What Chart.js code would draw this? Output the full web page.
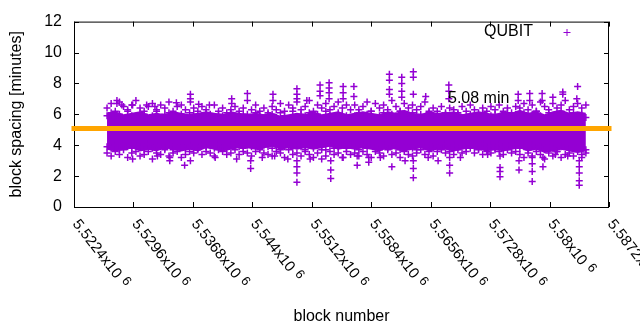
<!DOCTYPE html>
<html>
<head>
<meta charset="utf-8">
<script src="https://cdn.jsdelivr.net/npm/chart.js@4.4.1/dist/chart.umd.min.js"></script>
<style>
  body { margin: 0; background: #fff; }
  #wrap { width: 640px; height: 330px; }
</style>
</head>
<body>
<div id="wrap"><canvas id="spacing" width="640" height="330"></canvas></div>
<script>
const seriesLabel = 'QUBIT';
const meanSpacing = 5.08;

// blocks sampled every blockStep from blockStart, one value per row and block
const blockStart = 5526400;
const blockStep = 500;

// the bulk of the blocks: a solid band between these two edges (every 2nd block step)
const coreUpper = [
  6.1,6.2,6.0,6.1,6.2,6.0,6.1,6.0,6.2,6.1,6.0,6.1,6.2,6.1,6.0,6.2,6.1,
  6.0,6.1,6.0,6.1,5.9,6.0,6.1,6.0,6.2,6.0,6.1,6.2,6.0,6.1,6.2,6.1,6.0,6.2,6.1,6.3,6.1,6.0,6.2,6.1,
  6.1,6.2,6.0,6.1,6.2,6.1,6.0,6.2,6.1,6.3,6.1,6.2,6.0,6.2,6.3,6.1,6.2,6.1
];
const coreLower = [
  3.7,3.6,3.7,3.8,3.6,3.7,3.6,3.8,3.7,3.6,3.7,3.6,3.8,3.7,3.6,3.7,3.8,
  3.8,3.7,3.8,3.9,3.7,3.8,3.7,3.8,3.7,3.8,3.9,3.7,3.8,3.7,3.8,3.7,3.6,3.8,3.7,3.6,3.7,3.8,3.6,3.7,
  3.7,3.6,3.7,3.8,3.7,3.6,3.7,3.6,3.7,3.8,3.6,3.7,3.5,3.6,3.7,3.6,3.5,3.6
];

const rowTop = [
  6.4,6.7,6.2,6.8,6.5,6.3,6.6,6.9,6.4,6.2,6.5,6.7,6.3,6.6,6.4,6.8,6.2,6.5,6.6,6.3,
  6.1,6.4,6.2,6.5,6.3,6.0,6.6,6.2,6.4,6.1,6.3,6.5,6.2,6.4,6.0,6.3,6.6,6.2,6.4,6.1,
  6.5,6.3,6.7,6.2,6.6,6.4,6.8,6.3,6.5,6.9,6.2,6.6,6.4,6.7,6.3,6.5,6.8,6.4,6.6,6.3,
  6.6,6.3,6.5,6.8,6.2,6.7,6.4,6.6,6.3,6.9,6.5,6.2,6.7,6.4,6.6,6.3,6.5,6.8,6.2,6.4,
  6.2,6.5,6.1,6.4,6.3,6.0,6.5,6.2,6.6,6.3,6.1,6.4,6.2,6.5,6.3,6.6,6.2,6.4,6.1,6.5,
  6.4,6.7,6.3,6.6,6.2,6.8,6.5,6.3,6.7,6.4,6.6,6.9,6.3,6.5,6.7,6.4,6.6
];
const rowHigh = [
  5.9,6.1,5.8,6.0,5.7,6.2,5.9,5.8,6.1,6.0,5.7,5.9,6.2,5.8,6.0,6.1,5.7,5.9,6.0,5.8,
  5.8,6.0,5.7,5.9,6.1,5.8,5.7,6.0,5.9,5.8,6.1,5.7,5.9,6.0,5.8,5.7,6.1,5.9,5.8,6.0,
  6.0,5.8,6.1,5.9,5.7,6.2,5.8,6.0,5.9,6.1,5.8,6.0,5.7,6.2,5.9,5.8,6.1,6.0,5.9,5.7,
  5.9,6.1,5.8,6.0,6.2,5.7,5.9,6.1,5.8,6.0,5.9,6.2,5.8,5.7,6.1,5.9,6.0,5.8,6.1,5.9,
  5.8,5.9,6.0,5.7,5.9,6.1,5.8,5.7,6.0,5.9,5.8,6.1,5.7,5.9,6.0,5.8,5.9,6.1,5.7,6.0,
  5.9,6.1,5.8,6.0,6.2,5.9,5.7,6.1,5.8,6.0,6.2,5.9,5.8,6.1,5.9,6.0,5.8
];
const rowBase = [
  3.9,3.8,4.0,3.7,4.1,3.9,3.8,4.0,3.9,3.7,4.1,3.8,4.0,3.9,3.8,4.1,3.7,3.9,4.0,3.8,
  4.0,3.9,3.8,4.1,3.9,4.0,3.8,4.1,3.9,3.8,4.0,4.1,3.9,3.8,4.0,3.9,4.1,3.8,4.0,3.9,
  3.8,4.0,3.7,3.9,4.1,3.8,4.0,3.9,3.7,4.0,3.8,4.1,3.9,3.7,4.0,3.8,3.9,4.1,3.8,4.0,
  3.9,3.7,4.0,3.8,4.1,3.9,3.7,4.0,3.8,3.9,4.1,3.7,3.9,4.0,3.8,3.7,4.0,3.9,4.1,3.8,
  4.0,3.9,4.1,3.8,4.0,3.9,4.1,3.8,4.0,3.9,3.8,4.1,3.9,4.0,3.8,4.1,3.9,4.0,3.8,4.1,
  3.8,3.9,3.7,4.0,3.8,3.9,3.7,4.0,3.8,3.6,3.9,4.0,3.7,3.8,4.0,3.9,3.7
];
const rowBottom = [
  3.5,3.3,3.6,3.4,3.7,3.2,3.5,3.6,3.3,3.4,3.6,3.1,3.5,3.4,3.7,3.3,3.5,3.6,3.2,3.4,
  3.6,3.5,3.7,3.4,3.6,3.5,3.3,3.7,3.6,3.4,3.5,3.7,3.4,3.6,3.5,3.3,3.6,3.7,3.5,3.4,
  3.3,3.6,3.5,3.2,3.7,3.4,3.5,3.3,3.6,3.4,3.2,3.5,3.7,3.3,3.6,3.4,3.5,3.2,3.6,3.4,
  3.5,3.3,3.6,3.4,3.2,3.6,3.5,3.3,3.7,3.4,3.5,3.2,3.6,3.4,3.3,3.5,3.7,3.4,3.6,3.3,
  3.6,3.7,3.5,3.6,3.4,3.7,3.5,3.6,3.8,3.5,3.7,3.4,3.6,3.5,3.7,3.6,3.4,3.7,3.5,3.6,
  3.4,3.2,3.5,3.3,3.6,3.4,3.1,3.5,3.3,3.6,3.2,3.4,3.5,3.3,3.6,3.4,3.5
];

// isolated slow / fast blocks outside the band: [block, minutes]
const spikes = [
  [5527600,6.9],[5527600,6.7],[5528200,6.6],[5529500,6.6],[5531200,6.6],[5532200,6.5],
  [5534800,6.75],[5536500,7.3],[5536500,7.0],[5536500,6.8],[5537500,6.65],[5538800,6.6],
  [5541500,7.0],[5541500,6.7],[5543400,7.35],[5543400,6.9],[5546500,7.3],[5546500,6.9],
  [5549400,7.65],[5549400,7.3],[5549400,7.0],[5550600,6.9],[5552200,7.9],[5552200,7.5],
  [5552200,7.2],[5553300,8.05],[5553300,7.7],[5553300,7.4],[5553300,7.0],[5555000,7.8],
  [5555000,7.4],[5555000,7.0],[5556300,7.8],[5556300,7.15],[5560600,8.6],[5560600,8.2],
  [5560600,7.6],[5560600,7.3],[5562100,8.4],[5562100,8.0],[5562100,7.5],[5562100,7.1],
  [5563500,8.75],[5563500,8.4],[5563500,7.3],[5565000,7.15],[5567800,7.9],[5567800,7.5],
  [5567800,7.0],[5576200,7.3],[5576200,6.9],[5577600,7.35],[5577600,6.9],[5579100,7.35],
  [5579100,6.9],[5580400,7.1],[5581600,7.45],[5581600,7.3],[5583300,7.0],[5583400,7.8],
  [5529500,3.1],[5532500,3.3],[5534000,3.2],[5534000,3.0],[5535800,2.7],[5536500,3.0],
  [5539500,3.2],[5542100,3.1],[5543800,3.0],[5543800,2.5],[5545200,3.2],[5546700,3.3],
  [5548300,3.1],[5549400,3.0],[5549400,2.6],[5549400,2.2],[5549400,1.6],[5551000,3.1],
  [5552400,3.1],[5553500,3.0],[5553500,2.4],[5553500,1.85],[5555000,3.2],[5556700,3.3],
  [5556700,2.7],[5558100,3.2],[5558100,2.9],[5559500,3.2],[5560900,2.6],[5562500,3.0],
  [5563500,3.0],[5563500,2.5],[5563500,1.9],[5565300,3.2],[5566500,3.0],[5567900,3.2],
  [5567900,2.7],[5567900,2.2],[5569200,3.2],[5572500,3.4],[5574000,3.3],[5574000,2.55],
  [5574000,2.3],[5574000,1.95],[5576300,3.0],[5576300,2.4],[5577900,3.2],[5577900,2.8],
  [5577900,2.3],[5577900,1.65],[5579200,3.2],[5579200,2.6],[5580700,3.4],[5582200,3.3],
  [5583600,3.0],[5583600,2.6],[5583600,2.2],[5583600,1.7],[5583600,1.4],[5583900,3.2]
];

const xTickValues = [5522400,5529600,5536800,5544000,5551200,5558400,5565600,5572800,5580000,5587200];
const xTickLabels = ['5.5224','5.5296','5.5368','5.544','5.5512','5.5584','5.5656','5.5728','5.58','5.5872'];
const yTickValues = [0,2,4,6,8,10,12];

const points = [];
[rowTop, rowHigh, rowBase, rowBottom].forEach(row => {
    row.forEach((v, i) => points.push({ x: blockStart + i * blockStep, y: v }));
});
spikes.forEach(s => points.push({ x: s[0], y: s[1] }));

const coreLowerPts = coreLower.map((v, i) => ({ x: blockStart + i * 2 * blockStep, y: v }));
const coreUpperPts = coreUpper.map((v, i) => ({ x: blockStart + i * 2 * blockStep, y: v }));

const PURPLE = '#9400d3';
const FONT = '"Liberation Sans", Arial, sans-serif';
Chart.defaults.font.family = FONT;
Chart.defaults.color = '#000';

const gnuplotFrame = {
    id: 'gnuplotFrame',
    beforeDatasetsDraw(chart) {
        const { ctx, chartArea: a, scales: { x, y } } = chart;
        ctx.save();
        ctx.strokeStyle = '#000';
        ctx.lineWidth = 1;
        ctx.strokeRect(a.left + 0.5, a.top + 0.5, a.right - a.left - 1, a.bottom - a.top);
        ctx.beginPath();
        xTickValues.forEach(v => {
            const px = Math.round(x.getPixelForValue(v)) + 0.5;
            ctx.moveTo(px, a.bottom); ctx.lineTo(px, a.bottom - 5);
            ctx.moveTo(px, a.top); ctx.lineTo(px, a.top + 5);
        });
        yTickValues.forEach(v => {
            const py = Math.round(y.getPixelForValue(v)) + 0.5;
            ctx.moveTo(a.left, py); ctx.lineTo(a.left + 5, py);
            ctx.moveTo(a.right, py); ctx.lineTo(a.right - 5, py);
        });
        ctx.stroke();
        ctx.restore();
    },
    afterDatasetsDraw(chart) {
        const { ctx, chartArea: a, scales: { x, y } } = chart;
        ctx.save();
        ctx.fillStyle = '#000';

        // rotated x tick labels, gnuplot style "5.5224x10^6"
        xTickValues.forEach((v, i) => {
            const px = x.getPixelForValue(v);
            ctx.save();
            ctx.translate(px - 2, a.bottom + 17);
            ctx.rotate(52 * Math.PI / 180);
            ctx.font = '15px ' + FONT;
            ctx.textAlign = 'left';
            ctx.textBaseline = 'alphabetic';
            const main = xTickLabels[i] + 'x10';
            ctx.fillText(main, 0, 0);
            const w = ctx.measureText(main).width;
            ctx.font = '13px ' + FONT;
            ctx.fillText('6', w + 5, -4);
            ctx.restore();
        });

        // mean label
        ctx.font = '16px ' + FONT;
        ctx.textAlign = 'left';
        ctx.textBaseline = 'middle';
        ctx.fillText(meanSpacing.toFixed(2) + ' min', x.getPixelForValue(5567700), y.getPixelForValue(7.0));

        // key
        ctx.textAlign = 'right';
        ctx.fillText(seriesLabel, 533, 32);
        ctx.strokeStyle = PURPLE;
        ctx.lineWidth = 1;
        ctx.beginPath();
        ctx.moveTo(563.5, 32.5); ctx.lineTo(570.5, 32.5);
        ctx.moveTo(567, 29); ctx.lineTo(567, 36);
        ctx.stroke();
        ctx.restore();
    }
};

new Chart(document.getElementById('spacing'), {
    type: 'scatter',
    data: {
        datasets: [
            {
                label: meanSpacing.toFixed(2) + ' min',
                data: [{ x: xTickValues[0], y: meanSpacing }, { x: xTickValues[xTickValues.length - 1], y: meanSpacing }],
                showLine: true,
                borderColor: '#ffa500',
                borderWidth: 5,
                borderCapStyle: 'square',
                pointRadius: 0,
                clip: false,
                order: 0
            },
            {
                label: seriesLabel,
                data: points,
                pointStyle: 'cross',
                pointRadius: 3.5,
                borderWidth: 1.5,
                borderColor: PURPLE,
                backgroundColor: PURPLE,
                order: 1
            },
            {
                type: 'line',
                label: 'core low',
                data: coreLowerPts,
                borderWidth: 0,
                pointRadius: 0,
                fill: false,
                order: 2
            },
            {
                type: 'line',
                label: 'core high',
                data: coreUpperPts,
                borderWidth: 0,
                pointRadius: 0,
                backgroundColor: PURPLE,
                fill: '-1',
                order: 3
            }
        ]
    },
    options: {
        responsive: false,
        animation: false,
        events: [],
        layout: { padding: { top: 19, right: 31, left: 0, bottom: 0 } },
        plugins: { legend: { display: false }, tooltip: { enabled: false } },
        scales: {
            x: {
                type: 'linear',
                min: xTickValues[0],
                max: xTickValues[xTickValues.length - 1],
                grid: { display: false, drawTicks: false },
                border: { display: false },
                ticks: { display: false },
                title: { display: true, text: 'block number', font: { size: 16 }, padding: { top: 0, bottom: 4 } },
                afterFit(scale) { scale.height = 123; }
            },
            y: {
                min: 0,
                max: 12,
                ticks: { stepSize: 2, font: { size: 16 }, padding: 12 },
                grid: { display: false, drawTicks: false },
                border: { display: false },
                title: { display: true, text: 'block spacing [minutes]', font: { size: 16 }, padding: { top: 7, bottom: 0 } },
                afterFit(scale) { scale.width = 74; }
            }
        }
    },
    plugins: [gnuplotFrame]
});
</script>
</body>
</html>
